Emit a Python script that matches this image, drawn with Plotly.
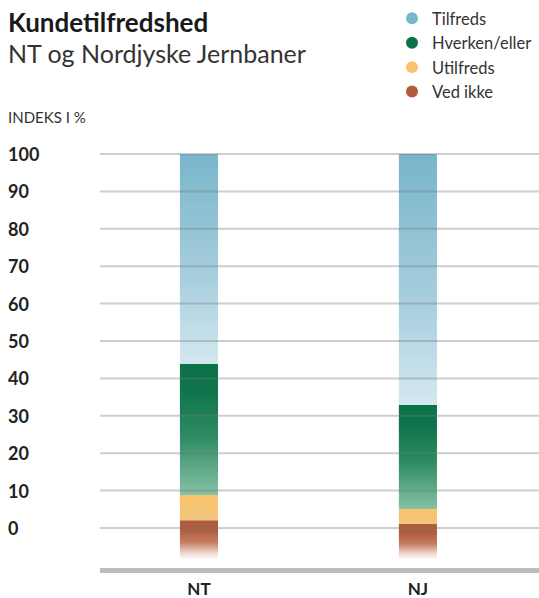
import plotly.graph_objects as go

# ---- data ----
categories = ["NT", "NJ"]
stack_base = -8.5
ved_ikke = [10.6, 9.6]
utilfreds = [6.7, 4.0]
hverken = [35.1, 27.8]
tilfreds = [56.1, 67.1]
y_ticks = [0, 10, 20, 30, 40, 50, 60, 70, 80, 90, 100]
y_tick_labels = ["0", "10", "20", "30", "40", "50", "60", "70", "80", "90", "100"]

FONT = "Lato"
series = [
    ("Ved ikke", ved_ikke, "#b05c3e",
     [[0, "#ffffff"], [0.15, "#f1ddd6"], [0.45, "#c47c62"], [0.75, "#b05c3e"], [1, "#b05c3e"]]),
    ("Utilfreds", utilfreds, "#fcc36e",
     [[0, "#f0c67e"], [1, "#fcc36d"]]),
    ("Hverken/eller", hverken, "#0b734a",
     [[0, "#86c2a6"], [0.45, "#2f8b63"], [0.8, "#0e744b"], [1, "#0b724a"]]),
    ("Tilfreds", tilfreds, "#7ab6cc",
     [[0, "#d4e8f0"], [0.4, "#a8cfde"], [1, "#78b5cb"]]),
]

bar_half = 0.087
fig = go.Figure()

cum = [stack_base] * len(categories)
for name, vals, col, cs in series:
    for i, cat in enumerate(categories):
        b = cum[i]
        t = b + vals[i]
        fig.add_trace(go.Scatter(
            x=[i - bar_half, i + bar_half, i + bar_half, i - bar_half, i - bar_half],
            y=[b, b, t, t, b],
            mode="lines", fill="toself",
            fillgradient=dict(type="vertical", colorscale=cs, start=b, stop=t),
            line=dict(width=0, color="rgba(0,0,0,0)"),
            showlegend=False, hoverinfo="skip", name=name,
        ))
        cum[i] = t

# legend entries (circles)
for name, vals, col, cs in reversed(series):
    fig.add_trace(go.Scatter(x=[None], y=[None], mode="markers", name=name,
                             marker=dict(size=12, color=col)))

shapes = []
for v in y_ticks:
    shapes.append(dict(type="line", xref="paper", x0=0, x1=1, yref="y", y0=v, y1=v,
                       line=dict(color="rgba(120,120,125,0.36)", width=2), layer="above"))

LEFT = -94 / 439
annotations = []
for v, lab in zip(y_ticks, y_tick_labels):
    annotations.append(dict(xref="paper", x=LEFT, xanchor="left", yref="y", y=v,
                            yanchor="middle", text=f"<b>{lab}</b>", showarrow=False,
                            font=dict(family=FONT, size=18, color="#222222")))
annotations.append(dict(xref="paper", x=LEFT, xanchor="left", yref="paper", y=1,
                        yshift=29, yanchor="middle", text="INDEKS I %", showarrow=False,
                        font=dict(family=FONT, size=15, color="#333333")))
annotations.append(dict(xref="paper", x=LEFT, xanchor="left", yref="paper", y=1,
                        yshift=93, yanchor="middle", text="NT og Nordjyske Jernbaner",
                        showarrow=False, font=dict(family=FONT, size=25, color="#333333")))

fig.update_layout(
    width=539, height=598,
    margin=dict(l=100, r=0, t=146, b=30),
    paper_bgcolor="white", plot_bgcolor="white",
    title=dict(text="<b>Kundetilfredshed</b>", x=8 / 539, xanchor="left",
               y=1 - 23 / 598, yanchor="middle", yref="container",
               font=dict(family=FONT, size=26, color="#1a1a1a")),
    xaxis=dict(range=[-0.452, 1.553], tickvals=list(range(len(categories))),
               ticktext=[f"<b>{c}</b>" for c in categories], showgrid=False,
               zeroline=False, showline=True, linecolor="#bdbdc0", linewidth=5,
               ticks="outside", ticklen=2, tickcolor="rgba(0,0,0,0)", automargin=False,
               tickfont=dict(family=FONT, size=17, color="#222222"), fixedrange=True),
    yaxis=dict(range=[-10.69, 102.14], showgrid=False, zeroline=False, automargin=False,
               showticklabels=False, fixedrange=True),
    legend=dict(x=(392 - 100) / 439, xanchor="left", y=1 - 1 / 598, yref="container",
                yanchor="top", font=dict(family=FONT, size=16.5, color="#333333"),
                bgcolor="rgba(0,0,0,0)", tracegroupgap=0),
    shapes=shapes, annotations=annotations,
    showlegend=True,
)

fig.write_html("out.html", config={"displayModeBar": False},
               post_script="document.body.style.margin='0';document.body.style.overflow='hidden';")
